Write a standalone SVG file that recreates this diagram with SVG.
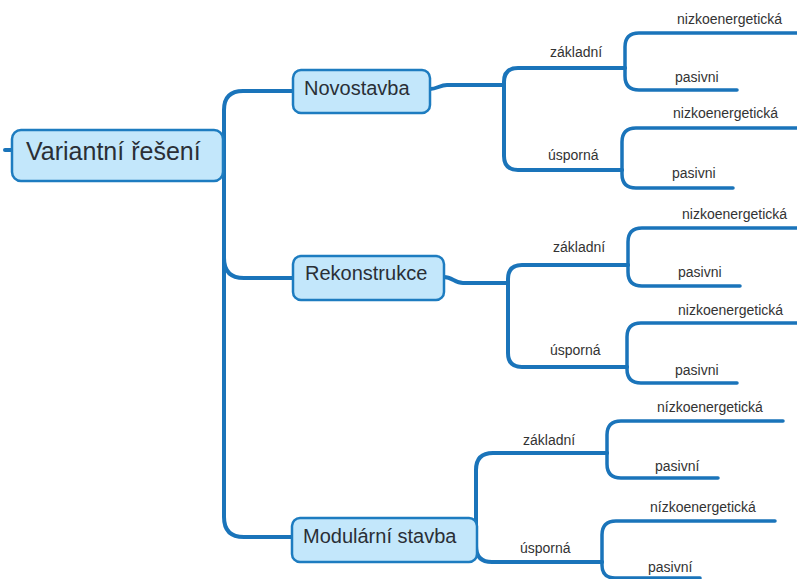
<svg xmlns="http://www.w3.org/2000/svg" width="797" height="579" viewBox="0 0 797 579">
<style>
.c{fill:none;stroke:#1a74ba;stroke-width:4;stroke-linecap:round;stroke-linejoin:round}
.s{stroke-width:3.5}
.box{fill:#c3e7fb;stroke:#1d7cc0;stroke-width:2.5}
.n{font-family:"Liberation Sans",Arial,sans-serif;fill:#2a2f36}
.t{font-family:"Liberation Sans",Arial,sans-serif;fill:#333;font-size:14px}
</style>
<rect width="797" height="579" fill="#fff"/>
<g id="connectors">
<path class="c" d="M5,150 H12"/>
<path class="c" d="M293,91 H243 Q224,91 224,110 V517 Q224,537 244,537 H292"/>
<path class="c" d="M224,250 V258 Q224,278 244,278 H293"/>
<path class="c" d="M430,89 C437,89 440,85 447,85 H504"/>
<path class="c" d="M504,85 V82 Q504,68 518,68 H625"/>
<path class="c" d="M504,85 V156 Q504,170 518,170 H622"/>
<path class="c s" d="M625,68 V47 Q625,33 639,33 H797"/>
<path class="c s" d="M625,68 V76 Q625,90 639,90 H737"/>
<path class="c s" d="M622,170 V142 Q622,128 636,128 H797"/>
<path class="c s" d="M622,170 V174 Q622,188 636,188 H733"/>
<path class="c" d="M444,277 C452,277 455,283 463,283 H508"/>
<path class="c" d="M508,283 V279 Q508,265 522,265 H628"/>
<path class="c" d="M508,283 V353 Q508,367 522,367 H627"/>
<path class="c s" d="M628,265 V242 Q628,228 642,228 H797"/>
<path class="c s" d="M628,265 V272 Q628,286 642,286 H740"/>
<path class="c s" d="M627,367 V337 Q627,323 641,323 H797"/>
<path class="c s" d="M627,367 V369 Q627,383 641,383 H737"/>
<path class="c" d="M476,530 V470 Q476,453 493,453 H607"/>
<path class="c" d="M476,540 V546 Q476,562 492,562 H602"/>
<path class="c s" d="M607,453 V435 Q607,421 621,421 H783"/>
<path class="c s" d="M607,453 V464 Q607,478 621,478 H718"/>
<path class="c s" d="M602,562 V535 Q602,521 616,521 H775"/>
<path class="c s" d="M602,562 V565 Q602,578 615,578 H700"/>
</g>
<g id="root">
<rect class="box" x="12" y="130" width="211" height="51" rx="9"/>
<text class="n" x="26" y="160" font-size="25">Variantní řešení</text>
</g>
<g id="novostavba">
<rect class="box" x="293" y="70" width="137" height="43" rx="8"/>
<text class="n" x="304" y="95" font-size="20">Novostavba</text>
</g>
<g id="rekonstrukce">
<rect class="box" x="293" y="256" width="151" height="44" rx="8"/>
<text class="n" x="305" y="280" font-size="20">Rekonstrukce</text>
</g>
<g id="modularni">
<rect class="box" x="292" y="518" width="185" height="44" rx="8"/>
<text class="n" x="303" y="543" font-size="20">Modulární stavba</text>
</g>
<g id="n-zakladni"><text class="t" x="550" y="57">základní</text></g>
<g id="n-usporna"><text class="t" x="548" y="160">úsporná</text></g>
<g id="n-z-nizko"><text class="t" x="677" y="24">nizkoenergetická</text></g>
<g id="n-z-pasivni"><text class="t" x="675" y="82">pasivni</text></g>
<g id="n-u-nizko"><text class="t" x="673" y="118">nizkoenergetická</text></g>
<g id="n-u-pasivni"><text class="t" x="672" y="178">pasivni</text></g>
<g id="r-zakladni"><text class="t" x="553" y="252">základní</text></g>
<g id="r-usporna"><text class="t" x="550" y="355">úsporná</text></g>
<g id="r-z-nizko"><text class="t" x="682" y="219">nizkoenergetická</text></g>
<g id="r-z-pasivni"><text class="t" x="678" y="277">pasivni</text></g>
<g id="r-u-nizko"><text class="t" x="678" y="315">nizkoenergetická</text></g>
<g id="r-u-pasivni"><text class="t" x="675" y="375">pasivni</text></g>
<g id="m-zakladni"><text class="t" x="523" y="445" font-size="16">základní</text></g>
<g id="m-usporna"><text class="t" x="520" y="553" font-size="16">úsporná</text></g>
<g id="m-z-nizko"><text class="t" x="657" y="412">nízkoenergetická</text></g>
<g id="m-z-pasivni"><text class="t" x="655" y="471" font-size="15">pasivní</text></g>
<g id="m-u-nizko"><text class="t" x="650" y="512">nízkoenergetická</text></g>
<g id="m-u-pasivni"><text class="t" x="648" y="572" font-size="15">pasivní</text></g>
</svg>
